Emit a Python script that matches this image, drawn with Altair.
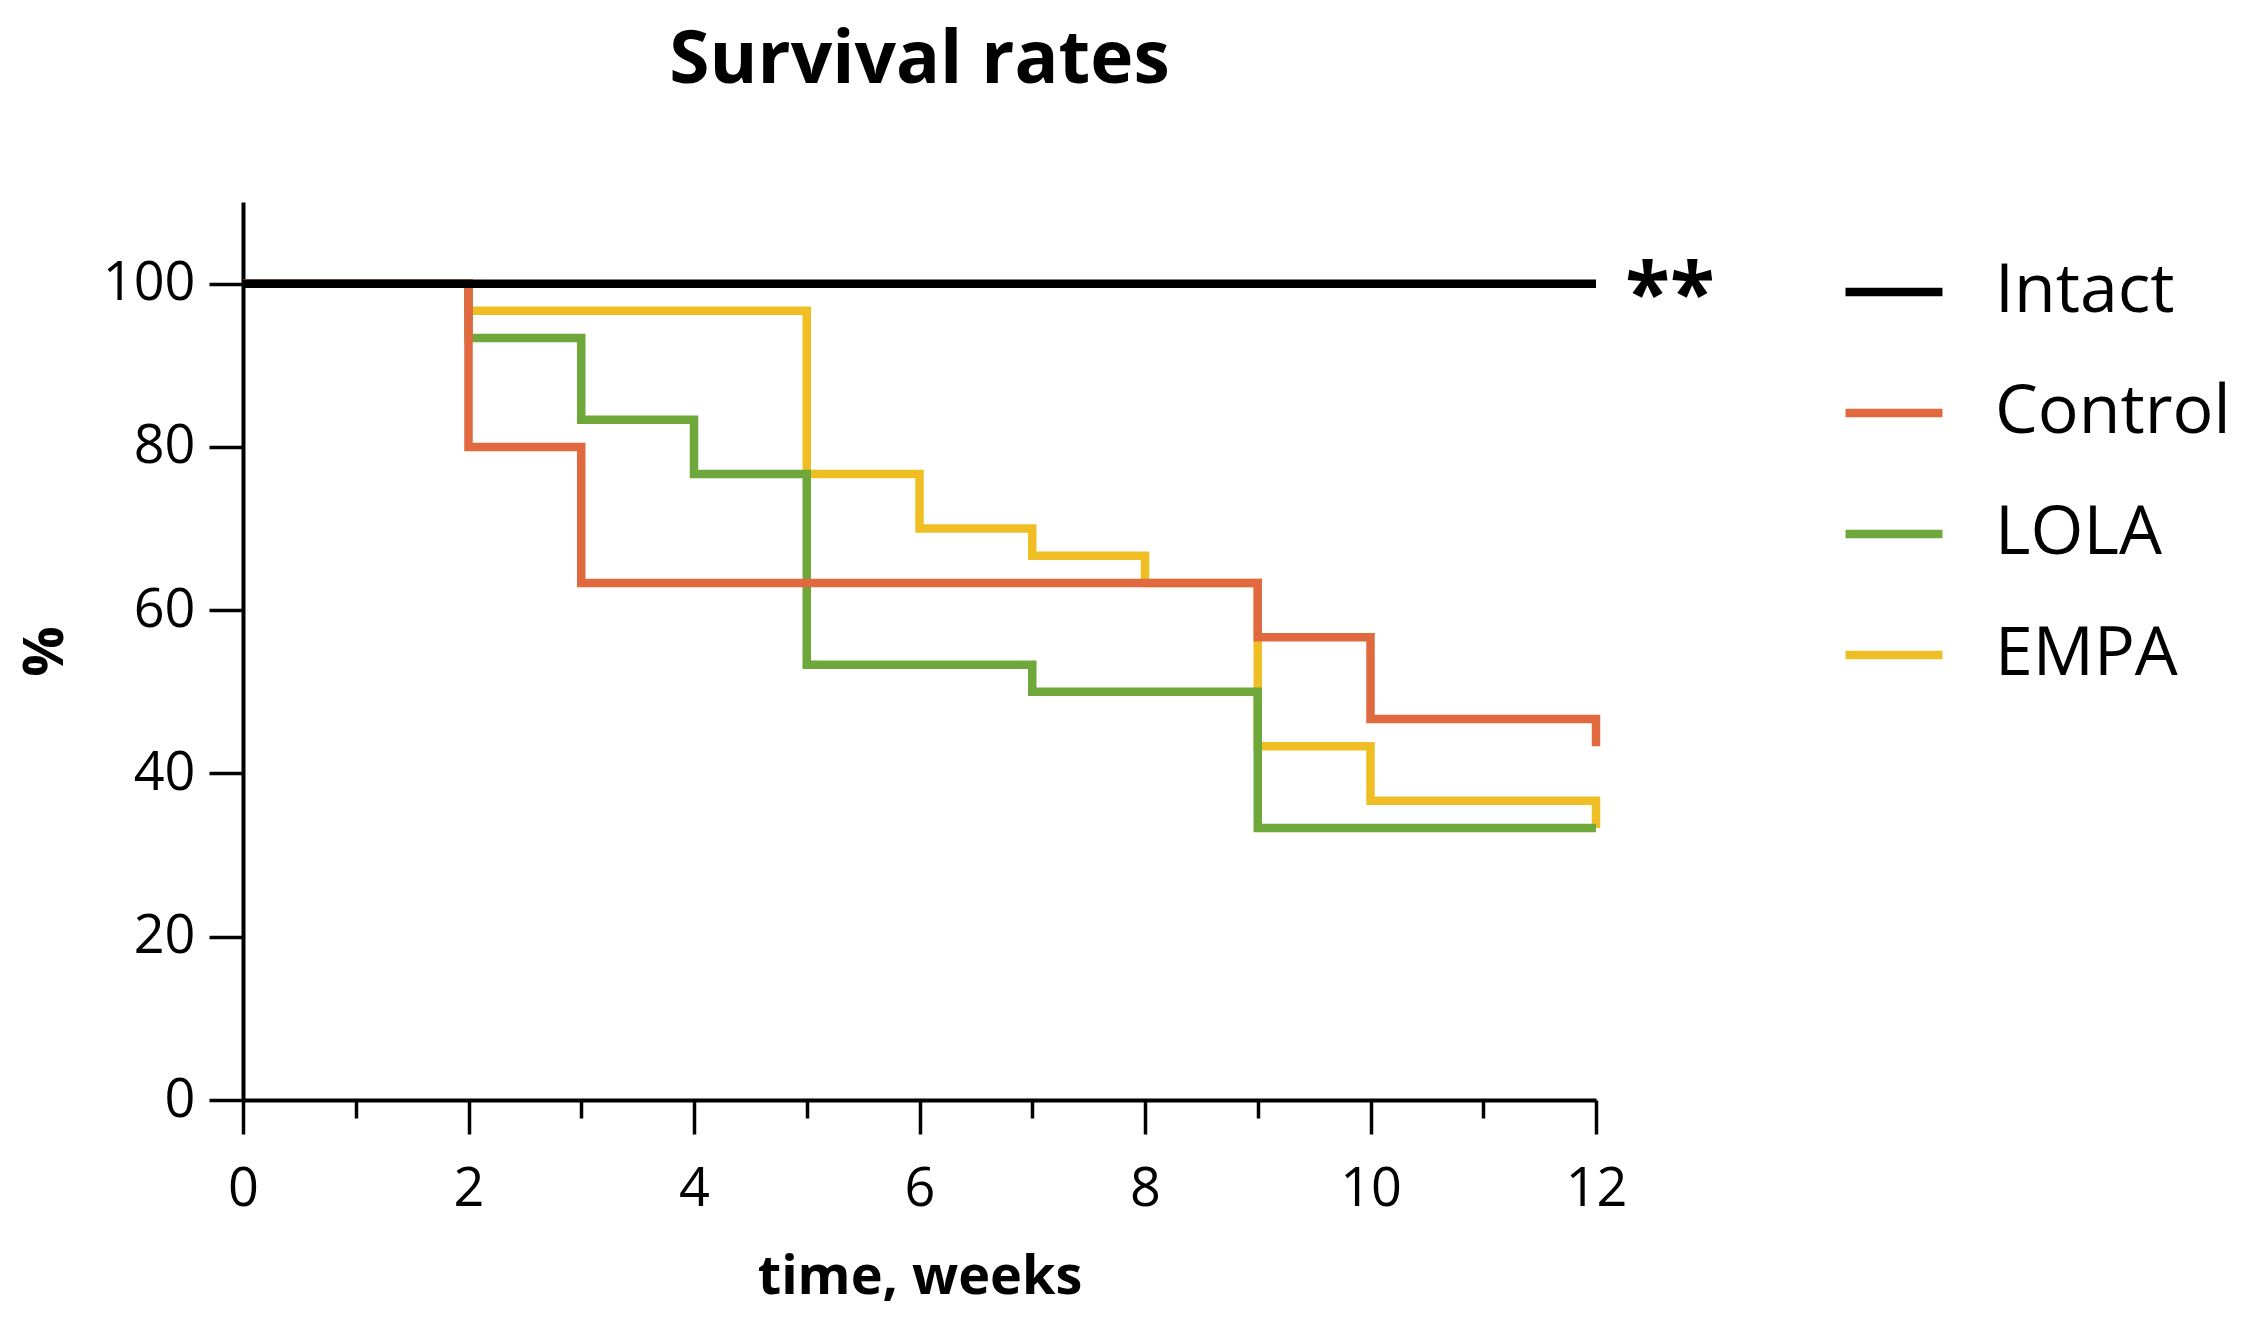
import altair as alt
import pandas as pd

groups = ["Intact", "Control", "LOLA", "EMPA"]
colors = ["#000000", "#E0693F", "#6FA83A", "#EFBE24"]

intact_t = [0, 12]
intact_s = [100, 100]
control_t = [0, 2, 3, 9, 10, 12]
control_s = [100, 80.0, 63.33, 56.67, 46.67, 43.33]
lola_t = [0, 2, 3, 4, 5, 7, 9, 12]
lola_s = [100, 93.33, 83.33, 76.67, 53.33, 50.0, 33.33, 33.33]
empa_t = [0, 2, 5, 6, 7, 8, 9, 10, 12]
empa_s = [100, 96.67, 76.67, 70.0, 66.67, 63.33, 43.33, 36.67, 33.33]

x_ticks = list(range(0, 13))
y_ticks = [0, 20, 40, 60, 80, 100]

def frame(name, t, s, order):
    return pd.DataFrame({"time": t, "pct": s, "group": name, "order": order})

# draw order: EMPA bottom, then LOLA, Control, Intact on top
draw = [("EMPA", empa_t, empa_s), ("LOLA", lola_t, lola_s),
        ("Control", control_t, control_s), ("Intact", intact_t, intact_s)]

FONT = "Open Sans"

x_enc = alt.X("time:Q", scale=alt.Scale(domain=[0, 12], nice=False, zero=False),
              axis=alt.Axis(values=x_ticks, title="time, weeks", format="d",
                            labelExpr="datum.value % 2 === 0 ? datum.label : ''",
                            tickSize={"condition": {"test": "datum.value % 2 === 0", "value": 34}, "value": 18},
                            labelFontSize=54, labelPadding=28, labelFont=FONT, labelColor="#000",
                            titleFontSize=54, titleFont=FONT, titleFontWeight="bold", titlePadding=34,
                            titleColor="#000",
                            tickColor="#000", domainColor="#000", tickWidth=3.5, domainWidth=4,
                            grid=False, labelFlush=False))
y_enc = alt.Y("pct:Q", scale=alt.Scale(domain=[0, 110], nice=False),
              axis=alt.Axis(values=y_ticks, title="%", tickSize=34, format="d",
                            labelFontSize=54, labelPadding=14, labelFont=FONT, labelColor="#000",
                            titleFontSize=56, titleFont=FONT, titleFontWeight="bold", titlePadding=28,
                            titleColor="#000",
                            tickColor="#000", domainColor="#000", tickWidth=3.5, domainWidth=4,
                            grid=False, labelFlush=False))
color_enc = alt.Color("group:N",
                      scale=alt.Scale(domain=groups, range=colors),
                      sort=groups,
                      legend=alt.Legend(title=None, orient="none", legendX=1598, legendY=37,
                                        symbolType="stroke", symbolSize=9400, symbolStrokeWidth=8.5,
                                        labelFontSize=68, labelFont=FONT, labelColor="#000",
                                        labelOffset=48, rowPadding=34, padding=0, labelLimit=0))

layers = []
for i, (name, t, s) in enumerate(draw):
    df = frame(name, t, s, i)
    layers.append(
        alt.Chart(df).mark_line(interpolate="step-after", strokeWidth=8.5, strokeJoin="miter",
                                strokeCap="butt")
        .encode(x=x_enc, y=y_enc, color=color_enc, order="time:Q")
    )

sig_df = pd.DataFrame({"time": [12], "pct": [100], "txt": ["**"]})
sig = alt.Chart(sig_df).mark_text(font=FONT, fontSize=82, fontWeight="bold", color="#000",
                                  align="center", baseline="alphabetic", dx=74, dy=38).encode(
    x="time:Q", y="pct:Q", text="txt:N")

chart = alt.layer(*layers, sig).properties(
    width=1353, height=898,
    background="white",
    title=alt.TitleParams("Survival rates", fontSize=73, font=FONT, fontWeight="bold",
                          color="#000", anchor="middle", frame="group", offset=104),
    autosize=alt.AutoSizeParams(type="none"),
    padding={"left": 235, "top": 194, "right": 641, "bottom": 212},
).configure_view(strokeWidth=0, stroke="transparent")

chart.save("out.html", embed_options={"renderer": "svg", "actions": False})
